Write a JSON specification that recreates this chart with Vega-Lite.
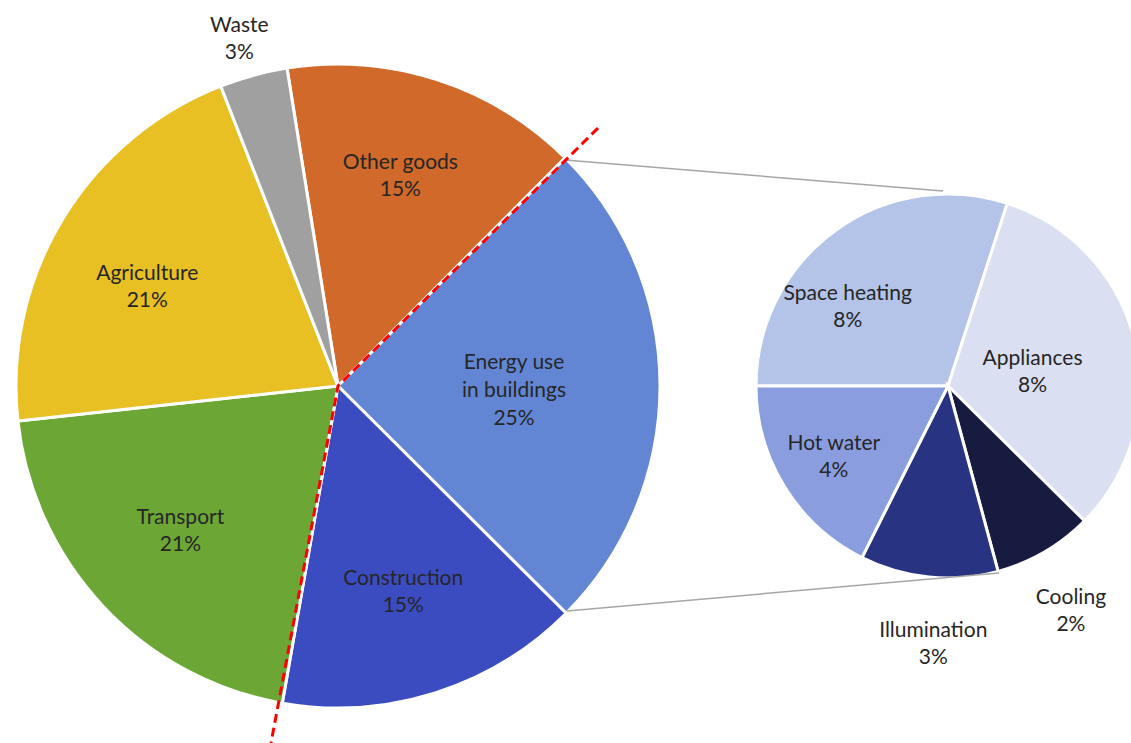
{
  "$schema": "https://vega.github.io/schema/vega-lite/v6.json",
  "width": 1131,
  "height": 743,
  "autosize": {"type": "none"},
  "padding": 0,
  "background": "white",
  "config": {"view": {"stroke": null}, "text": {"font": "Lato", "fontSize": 21, "lineHeight": 27, "lineBreak": "|", "fill": "#262626"}},
  "layer": [
    {
      "data": {"values": [
        {"name": "Other goods", "pct": 15, "idx": 1, "label": "Other goods|15%"},
        {"name": "Energy use in buildings", "pct": 25, "idx": 2, "label": "Energy use|in buildings|25%"},
        {"name": "Construction", "pct": 15.3, "idx": 3, "label": "Construction|15%"},
        {"name": "Transport", "pct": 20.5, "idx": 4, "label": "Transport|21%"},
        {"name": "Agriculture", "pct": 20.8, "idx": 5, "label": "Agriculture|21%"},
        {"name": "Waste", "pct": 3.4, "idx": 6, "label": "Waste|3%"}
      ]},
      "encoding": {
        "theta": {"field": "pct", "type": "quantitative", "stack": true, "scale": {"range": [-0.159, 6.124]}},
        "order": {"field": "idx", "type": "quantitative"},
        "detail": {"field": "name", "type": "nominal"},
        "x": {"datum": 338, "type": "quantitative", "scale": {"domain": [0, 1131], "nice": false, "zero": false}, "axis": null},
        "y": {"datum": 386, "type": "quantitative", "scale": {"domain": [0, 743], "nice": false, "zero": false, "reverse": true}, "axis": null}
      },
      "layer": [
        {
          "mark": {"type": "arc", "outerRadius": 322, "stroke": "white", "strokeWidth": 3},
          "encoding": {
            "color": {"field": "name", "type": "nominal", "legend": null,
              "scale": {"domain": ["Other goods", "Energy use in buildings", "Construction", "Transport", "Agriculture", "Waste"],
                        "range": ["#D0692A", "#6386D4", "#3B4CC0", "#6CA736", "#E9C023", "#A0A0A0"]}}
          }
        },
        {
          "mark": {"type": "text", "radius": 216, "dx": -4, "dy": -17},
          "encoding": {"text": {"condition": {"test": "datum.name == 'Other goods'", "field": "label"}, "value": ""}}
        },
        {
          "mark": {"type": "text", "radius": 175, "dx": 1, "dy": -23, "lineHeight": 28},
          "encoding": {"text": {"condition": {"test": "datum.name == 'Energy use in buildings'", "field": "label"}, "value": ""}}
        },
        {
          "mark": {"type": "text", "radius": 216, "dx": 0, "dy": -13},
          "encoding": {"text": {"condition": {"test": "datum.name == 'Construction'", "field": "label"}, "value": ""}}
        },
        {
          "mark": {"type": "text", "radius": 216, "dx": 0, "dy": -16},
          "encoding": {"text": {"condition": {"test": "datum.name == 'Transport'", "field": "label"}, "value": ""}}
        },
        {
          "mark": {"type": "text", "radius": 216, "dx": -6, "dy": 0},
          "encoding": {"text": {"condition": {"test": "datum.name == 'Agriculture'", "field": "label"}, "value": ""}}
        },
        {
          "mark": {"type": "text", "radius": 364, "dx": -3, "dy": -9},
          "encoding": {"text": {"condition": {"test": "datum.name == 'Waste'", "field": "label"}, "value": ""}}
        }
      ]
    },
    {
      "data": {"values": [
        {"name": "Space heating", "pct": 7.5, "idx": 1, "label": "Space heating|8%"},
        {"name": "Appliances", "pct": 8.1, "idx": 2, "label": "Appliances|8%"},
        {"name": "Cooling", "pct": 2.1, "idx": 3, "label": "Cooling|2%"},
        {"name": "Illumination", "pct": 2.9, "idx": 4, "label": "Illumination|3%"},
        {"name": "Hot water", "pct": 4.4, "idx": 5, "label": "Hot water|4%"}
      ]},
      "encoding": {
        "theta": {"field": "pct", "type": "quantitative", "stack": true, "scale": {"range": [-1.5708, 4.7124]}},
        "order": {"field": "idx", "type": "quantitative"},
        "detail": {"field": "name", "type": "nominal"},
        "x": {"datum": 948, "type": "quantitative", "scale": {"domain": [0, 1131], "nice": false, "zero": false}, "axis": null},
        "y": {"datum": 386, "type": "quantitative", "scale": {"domain": [0, 743], "nice": false, "zero": false, "reverse": true}, "axis": null}
      },
      "layer": [
        {
          "mark": {"type": "arc", "outerRadius": 192, "stroke": "white", "strokeWidth": 3},
          "encoding": {
            "color": {"field": "name", "type": "nominal", "legend": null,
              "scale": {"domain": ["Space heating", "Appliances", "Cooling", "Illumination", "Hot water"],
                        "range": ["#B4C3E8", "#DADFF2", "#171B40", "#283381", "#8A9EDF"]}}
          }
        },
        {
          "mark": {"type": "text", "radius": 128, "dx": -25, "dy": 12},
          "encoding": {"text": {"condition": {"test": "datum.name == 'Space heating'", "field": "label"}, "value": ""}}
        },
        {
          "mark": {"type": "text", "radius": 87, "dx": 0, "dy": -6},
          "encoding": {"text": {"condition": {"test": "datum.name == 'Appliances'", "field": "label"}, "value": ""}}
        },
        {
          "mark": {"type": "text", "radius": 133, "dx": -1, "dy": -12},
          "encoding": {"text": {"condition": {"test": "datum.name == 'Hot water'", "field": "label"}, "value": ""}}
        },
        {
          "mark": {"type": "text", "radius": 256, "dx": 11, "dy": -10},
          "encoding": {"text": {"condition": {"test": "datum.name == 'Illumination'", "field": "label"}, "value": ""}}
        },
        {
          "mark": {"type": "text", "radius": 256, "dx": -6, "dy": -9},
          "encoding": {"text": {"condition": {"test": "datum.name == 'Cooling'", "field": "label"}, "value": ""}}
        }
      ]
    },
    {
      "data": {"values": [
        {"x": 565, "y": 160, "x2": 943, "y2": 191},
        {"x": 567, "y": 611, "x2": 999, "y2": 573}
      ]},
      "mark": {"type": "rule", "color": "#A6A6A6", "strokeWidth": 1.5},
      "encoding": {
        "x": {"field": "x", "type": "quantitative", "scale": {"domain": [0, 1131], "nice": false, "zero": false}, "axis": null},
        "y": {"field": "y", "type": "quantitative", "scale": {"domain": [0, 743], "nice": false, "zero": false, "reverse": true}, "axis": null},
        "x2": {"field": "x2"},
        "y2": {"field": "y2"}
      }
    },
    {
      "data": {"values": [
        {"x": 598, "y": 128, "o": 1},
        {"x": 338, "y": 386, "o": 2},
        {"x": 271, "y": 743, "o": 3}
      ]},
      "mark": {"type": "line", "color": "#FF0000", "strokeWidth": 3, "strokeDash": [9, 5]},
      "encoding": {
        "x": {"field": "x", "type": "quantitative", "scale": {"domain": [0, 1131], "nice": false, "zero": false}, "axis": null},
        "y": {"field": "y", "type": "quantitative", "scale": {"domain": [0, 743], "nice": false, "zero": false, "reverse": true}, "axis": null},
        "order": {"field": "o", "type": "quantitative"}
      }
    }
  ],
  "resolve": {"scale": {"theta": "independent", "color": "independent"}}
}
